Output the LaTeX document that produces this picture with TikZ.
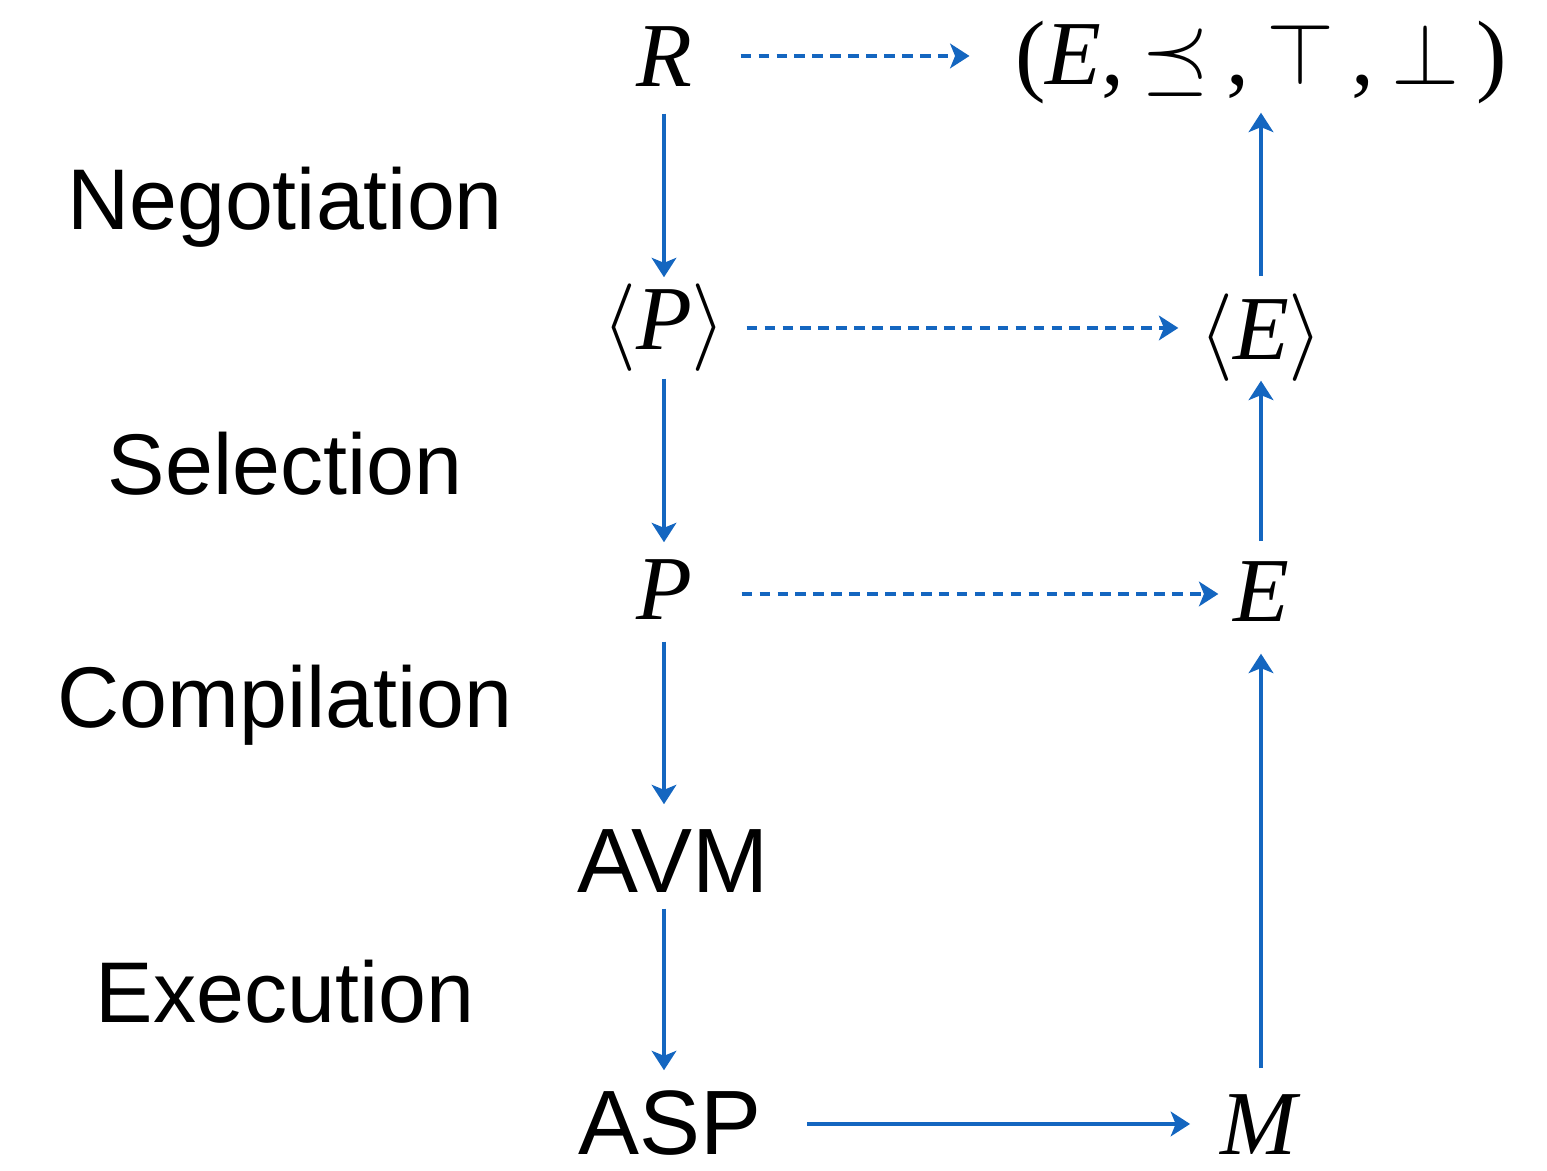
\documentclass[tikz,border=0pt]{standalone}
\usepackage{fontspec}
\setmainfont{Liberation Serif}
\newfontfamily\stagefont{Liberation Sans}
\usetikzlibrary{arrows.meta,calc}
\definecolor{arrowblue}{RGB}{20,102,192}
\newcommand{\tgap}{\hspace{0.17cm}}

\tikzset{
  flow/.style={draw=arrowblue, line width=1.4pt,
    -{Stealth[length=5.5pt,width=7pt,inset=1.4pt]}},
  maps/.style={flow, dash pattern=on 3pt off 2.1pt},
  term/.style={inner sep=0pt, anchor=base, text height=0.62cm, text depth=0pt,
    font=\fontsize{26}{31}\selectfont},
  stage/.style={inner sep=0pt, anchor=base, font=\stagefont\fontsize{24.5}{29}\selectfont},
}

\begin{document}
\begin{tikzpicture}[x=0.01cm,y=-0.01cm]
\useasboundingbox (0,0) rectangle (1547,1171);

% left column
\node[term] (R)   at (664,87)   {\textit{R}};
\node[term] (pl)  at (664,350)  {$\langle$\textit{P}$\rangle$};
\node[term] (P)   at (664,620)  {\textit{P}};
\node[term] (avm) at (673,893)  {\stagefont AVM};
\node[term] (asp) at (670,1155) {\stagefont ASP};

% right column
\node[term] (ord) at (1261,85)  {(\textit{E},\tgap$\preceq$\tgap,\tgap$\top$\tgap,\tgap$\bot$\tgap)};
\node[term] (el)  at (1261,360) {$\langle$\textit{E}$\rangle$};
\node[term] (E)   at (1261,622) {\textit{E}};
\node[term] (M)   at (1261,1155) {\textit{M}};

% stages
\node[stage] (neg) at (285,230)  {Negotiation};
\node[stage] (sel) at (285,495)  {Selection};
\node[stage] (com) at (285,728)  {Compilation};
\node[stage] (exe) at (285,1023) {Execution};

% down the left
\draw[flow, shorten <=0.26cm, shorten >=0.10cm] (R) -- (pl);
\draw[flow, shorten <=0.28cm, shorten >=0.15cm] (pl) -- (P);
\draw[flow, shorten <=0.21cm, shorten >=0.26cm] (P.south) -- (P.south |- avm.north);
\draw[flow, shorten <=0.15cm, shorten >=0.22cm] (avm.south -| P.south) -- (asp.north -| P.south);

% across
\draw[maps, shorten <=0.48cm, shorten >=0.45cm] (R.east) -- (R.east -| ord.west);
\draw[maps, transform canvas={yshift=-0.09cm}, shorten <=0.20cm, shorten >=0.20cm] (pl.east) -- (pl.east -| el.west);
\draw[maps, transform canvas={yshift=-0.05cm}, shorten <=0.49cm, shorten >=0.14cm] (P.east) -- (P.east -| E.west);
\draw[flow, shorten <=0.45cm, shorten >=0.30cm] (asp.east) -- (asp.east -| M.west);

% up the right
\draw[flow, shorten <=0.24cm, shorten >=0.31cm] (M) -- (E);
\draw[flow, shorten <=0.18cm, shorten >=0.20cm] (E) -- (el);
\draw[flow, shorten <=0.21cm, shorten >=0.27cm] (el) -- (ord);
\end{tikzpicture}
\end{document}
